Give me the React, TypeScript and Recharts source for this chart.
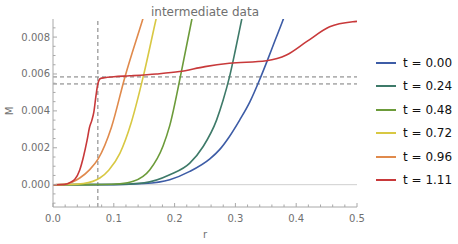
import { LineChart, Line, XAxis, YAxis, ReferenceLine, Legend, Label } from "recharts";

// values: [r, M]
const seriesT000 = [[0, 0], [0.1, 0.000005], [0.15, 0.00006], [0.192, 0.00027], [0.225, 0.00072], [0.258, 0.0014], [0.274, 0.0019], [0.29, 0.0026], [0.307, 0.0035], [0.324, 0.0045], [0.34, 0.0057], [0.351, 0.0066], [0.365, 0.0078], [0.378, 0.0089], [0.39, 0.01]];
const seriesT024 = [[0, 0], [0.1, 0.00001], [0.15, 0.0001], [0.192, 0.00054], [0.225, 0.00117], [0.247, 0.00207], [0.269, 0.0035], [0.28, 0.0046], [0.29, 0.0058], [0.3, 0.0073], [0.31, 0.0089], [0.32, 0.0105]];
const seriesT048 = [[0, 0], [0.08, 0.00001], [0.11, 0.00005], [0.132, 0.00018], [0.159, 0.0008], [0.181, 0.0021], [0.192, 0.0032], [0.211, 0.0061], [0.228, 0.0089], [0.24, 0.011]];
const seriesT072 = [[0, 0], [0.03, 0.00001], [0.05, 0.00006], [0.077, 0.00036], [0.092, 0.0008], [0.11, 0.0017], [0.129, 0.0034], [0.148, 0.0058], [0.169, 0.0089], [0.18, 0.0105]];
const seriesT096 = [[0, 0], [0.02, 0.00003], [0.044, 0.00036], [0.06, 0.0008], [0.074, 0.00138], [0.096, 0.0031], [0.118, 0.0058], [0.147, 0.0089], [0.16, 0.0103]];
const seriesT111 = [[0, 0], [0.019, 0.00001], [0.03, 0.00015], [0.036, 0.0003], [0.044, 0.0008], [0.05, 0.0015], [0.056, 0.0024], [0.06, 0.0031], [0.064, 0.0035], [0.067, 0.0039], [0.071, 0.0049], [0.074, 0.0055], [0.078, 0.00575], [0.085, 0.0058], [0.1, 0.00585], [0.126, 0.0059], [0.17, 0.006], [0.208, 0.00613], [0.25, 0.0064], [0.29, 0.00658], [0.351, 0.00672], [0.384, 0.00703], [0.417, 0.00775], [0.455, 0.00856], [0.493, 0.00883], [0.5, 0.00885]];

const seriesNames = ["t = 0.00", "t = 0.24", "t = 0.48", "t = 0.72", "t = 0.96", "t = 1.11"];
const seriesColors = ["#3d5ca6", "#3e7a69", "#6c9b3a", "#d8c843", "#e08a4c", "#c8393a"];
const allSeries = [seriesT000, seriesT024, seriesT048, seriesT072, seriesT096, seriesT111];

const xTicks = [0, 0.02, 0.04, 0.06, 0.08, 0.1, 0.12, 0.14, 0.16, 0.18, 0.2, 0.22, 0.24, 0.26, 0.28, 0.3, 0.32, 0.34, 0.36, 0.38, 0.4, 0.42, 0.44, 0.46, 0.48, 0.5];
const yTicks = [-0.001, -0.0005, 0, 0.0005, 0.001, 0.0015, 0.002, 0.0025, 0.003, 0.0035, 0.004, 0.0045, 0.005, 0.0055, 0.006, 0.0065, 0.007, 0.0075, 0.008, 0.0085];
const dashedR = [0.0738];
const dashedM = [0.00584, 0.00546];

const FRAME = "#a8a8a8";
const TEXT = "#707070";
const FONT = "DejaVu Sans";

const isMajorX = (v: number) => Math.abs(v * 10 - Math.round(v * 10)) < 1e-6;
const isMajorY = (v: number) => Math.abs(v * 500 - Math.round(v * 500)) < 1e-6;

const XTick = ({ x, y, payload, top }: any) => {
  const major = isMajorX(payload.value);
  const len = major ? 4 : 2.5;
  return (
    <g>
      <line x1={x} x2={x} y1={y} y2={top ? y + len : y - len} stroke={FRAME} strokeWidth={1} />
      {!top && major && (
        <text x={x} y={y + 15} textAnchor="middle" fill={TEXT} fontSize={10} fontFamily={FONT}>
          {payload.value.toFixed(1)}
        </text>
      )}
    </g>
  );
};

const YTick = ({ x, y, payload, right }: any) => {
  const major = isMajorY(payload.value);
  const len = major ? 4 : 2.5;
  return (
    <g>
      <line x1={x} x2={right ? x - len : x + len} y1={y} y2={y} stroke={FRAME} strokeWidth={1} />
      {!right && major && (
        <text x={x - 3} y={y + 3.5} textAnchor="end" fill={TEXT} fontSize={10} fontFamily={FONT}>
          {payload.value.toFixed(3)}
        </text>
      )}
    </g>
  );
};

const renderLegend = () => (
  <div style={{ fontFamily: FONT, fontSize: 12, color: "#111" }}>
    {seriesNames.map((name, i) => (
      <div key={name} style={{ display: "flex", alignItems: "center", height: 23.5 }}>
        <span style={{ display: "inline-block", width: 20, height: 2, background: seriesColors[i], marginRight: 7 }} />
        <span>{name}</span>
      </div>
    ))}
  </div>
);

export default function App() {
  return (
    <div style={{ position: "absolute", left: 0, top: 0, width: 458, height: 244 }}>
      <div style={{ position: "absolute", left: 53, width: 304, top: 5, lineHeight: "14px", textAlign: "center", fontFamily: FONT, fontSize: 12, color: TEXT }}>
        intermediate data
      </div>
      <LineChart width={458} height={244} margin={{ top: 19, right: 101, bottom: 0, left: 0 }}>
        <XAxis dataKey="r" type="number" domain={[0, 0.5]} ticks={xTicks} interval={0} allowDataOverflow
          height={37} tickSize={0} tickMargin={0} tickLine={false} axisLine={{ stroke: FRAME }} tick={<XTick />}>
          <Label content={() => (
            <text x={205} y={238} textAnchor="middle" fill={TEXT} fontSize={10} fontFamily={FONT}>r</text>
          )} />
        </XAxis>
        <XAxis xAxisId="top" orientation="top" dataKey="r" type="number" domain={[0, 0.5]} ticks={xTicks} interval={0}
          allowDataOverflow height={0} tickSize={0} tickMargin={0} tickLine={false} axisLine={{ stroke: FRAME }} tick={<XTick top />} />
        <YAxis type="number" domain={[-0.00121, 0.00898]} ticks={yTicks} interval={0} allowDataOverflow width={53}
          tickSize={0} tickMargin={0} tickLine={false} axisLine={{ stroke: FRAME }} tick={<YTick />}>
          <Label content={() => (
            <text x={13} y={111} transform="rotate(-90 13 111)" textAnchor="middle" fill={TEXT} fontSize={10} fontFamily={FONT}>M</text>
          )} />
        </YAxis>
        <YAxis yAxisId="right" orientation="right" type="number" domain={[-0.00121, 0.00898]} ticks={yTicks} interval={0}
          allowDataOverflow width={0} tickSize={0} tickMargin={0} tickLine={false} axisLine={{ stroke: FRAME }} tick={<YTick right />} />
        <ReferenceLine y={0} stroke="#cfcfcf" strokeWidth={1} />
        {dashedM.map((m) => (
          <ReferenceLine key={m} y={m} stroke="#7a7a7a" strokeDasharray="4 3" strokeWidth={1} />
        ))}
        {dashedR.map((r) => (
          <ReferenceLine key={r} x={r} stroke="#7a7a7a" strokeDasharray="4 3" strokeWidth={1} />
        ))}
        {allSeries.map((s, i) => (
          <Line key={seriesNames[i]} name={seriesNames[i]} data={s.map(([r, m]) => ({ r, m }))} dataKey="m"
            type="monotone" stroke={seriesColors[i]} strokeWidth={1.6} dot={false} activeDot={false} isAnimationActive={false} />
        ))}
        <Legend layout="vertical" align="center" verticalAlign="middle" content={renderLegend}
          wrapperStyle={{ left: 376, top: 51, width: 80, height: 145 }} />
      </LineChart>
    </div>
  );
}
